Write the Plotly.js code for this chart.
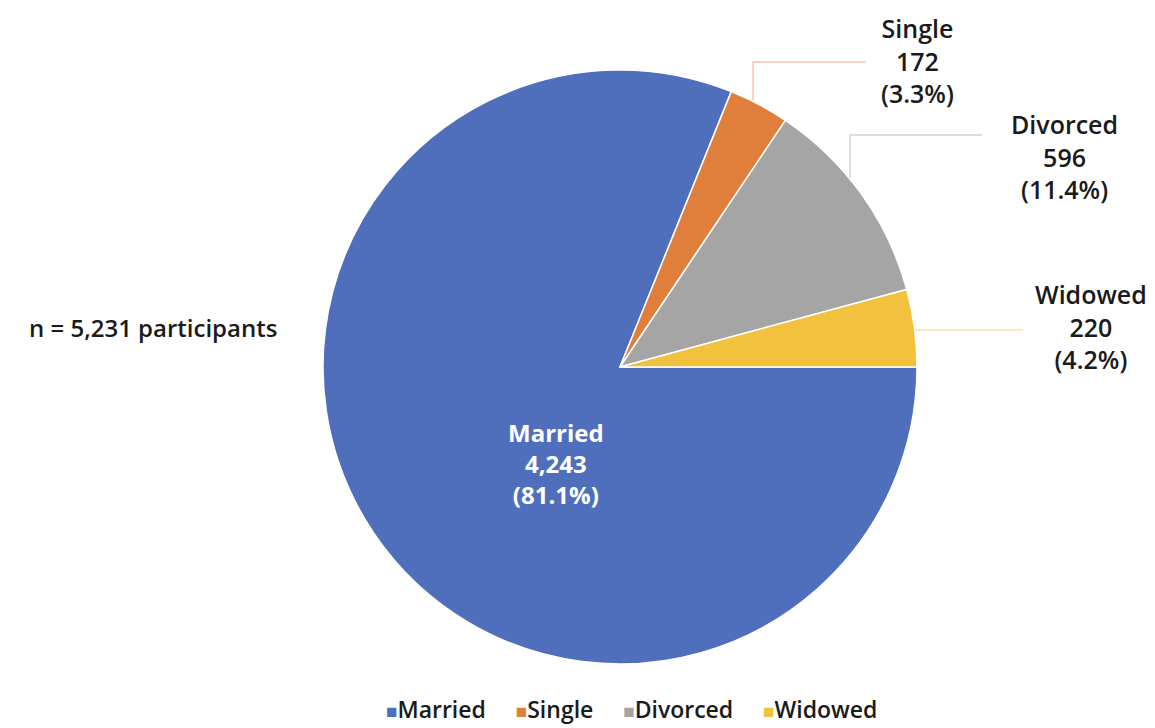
<!DOCTYPE html>
<html>
<head>
<meta charset="utf-8">
<script src="https://cdn.plot.ly/plotly-3.0.1.min.js"></script>
<style>html,body{margin:0;padding:0;background:#fff;}#chart{width:1155px;height:728px;}</style>
</head>
<body>
<div id="chart"></div>
<script>
// ---- data ----
const categories = ["Married", "Single", "Divorced", "Widowed"];
const counts = [4243, 172, 596, 220];
const percents = ["81.1%", "3.3%", "11.4%", "4.2%"];
const totalLabel = "n = 5,231 participants";

// ---- style ----
const colors = ["#4F6FBD", "#E07E3C", "#A5A5A5", "#F2C13D"];
const lineColors = ["#4F6FBD", "#F3C7A6", "#D3D3D3", "#F7E3AC"];
const W = 1155, H = 728;
const cx = 620, cy = 367, R = 297;
const fontFam = "'Open Sans', Lato, sans-serif";

function fmt(n) { return n.toLocaleString("en-US"); }
function px(x) { return x / W; }
function py(y) { return 1 - y / H; }

// label placements (layout only)
const labelPos = [
  {x: 556, y: 464},
  {x: 917, y: 60},
  {x: 1064, y: 156},
  {x: 1091, y: 327}
];
// leader lines: vertical segment at elbowX (or horizontal only if null) then horizontal to endX at lineY
const leaders = [
  null,
  {elbowX: 753, lineY: 62, endX: 866},
  {elbowX: 850, lineY: 135, endX: 982},
  {elbowX: null, lineY: 330, endX: 1023}
];

const annotations = categories.map((c, i) => ({
  xref: "paper", yref: "paper",
  x: px(labelPos[i].x), y: py(labelPos[i].y),
  xanchor: "center", yanchor: "middle",
  text: c + "<br>" + fmt(counts[i]) + "<br>(" + percents[i] + ")",
  showarrow: false,
  align: "center",
  font: i === 0
    ? {family: fontFam, size: 24, color: "#FFFFFF", weight: 700}
    : {family: fontFam, size: 25, color: "#1A1A1A", weight: 600}
}));
annotations.push({
  xref: "paper", yref: "paper", x: px(27), y: py(328),
  xanchor: "left", yanchor: "middle",
  text: totalLabel, showarrow: false,
  font: {family: fontFam, size: 24, color: "#1A1A1A", weight: 600}
});
// legend row built from categories/colors
const legendText = categories.map((c, i) =>
  `<span style="color:${colors[i]};font-size:19px">■</span>${c}`).join("&nbsp;&nbsp;&nbsp;&nbsp;&nbsp;");
annotations.push({
  xref: "paper", yref: "paper", x: px(631), y: py(709),
  xanchor: "center", yanchor: "middle",
  text: legendText, showarrow: false,
  font: {family: fontFam, size: 23, color: "#1A1A1A", weight: 600}
});

const shapes = [];
leaders.forEach((l, i) => {
  if (!l) return;
  let path;
  if (l.elbowX !== null) {
    const dx = l.elbowX - cx;
    const edgeY = cy - Math.sqrt(R * R - dx * dx);
    path = `M ${px(l.elbowX)} ${py(edgeY)} L ${px(l.elbowX)} ${py(l.lineY)} L ${px(l.endX)} ${py(l.lineY)}`;
  } else {
    const dy = cy - l.lineY;
    const edgeX = cx + Math.sqrt(R * R - dy * dy);
    path = `M ${px(edgeX)} ${py(l.lineY)} L ${px(l.endX)} ${py(l.lineY)}`;
  }
  shapes.push({type: "path", xref: "paper", yref: "paper", path: path,
    line: {color: lineColors[i], width: 1.5}, layer: "below"});
});

const trace = {
  type: "pie",
  labels: categories,
  values: counts,
  sort: false,
  direction: "clockwise",
  rotation: 90,
  textinfo: "none",
  hoverinfo: "label+value+percent",
  marker: {colors: colors, line: {color: "#FFFFFF", width: 1.5}},
  domain: {x: [px(cx - R), px(cx + R)], y: [py(cy + R), py(cy - R)]}
};

const layout = {
  width: W, height: H,
  margin: {l: 0, r: 0, t: 0, b: 0},
  paper_bgcolor: "#FFFFFF",
  showlegend: false,
  annotations: annotations,
  shapes: shapes
};

Plotly.newPlot("chart", [trace], layout, {displayModeBar: false, staticPlot: true});
</script>
</body>
</html>
